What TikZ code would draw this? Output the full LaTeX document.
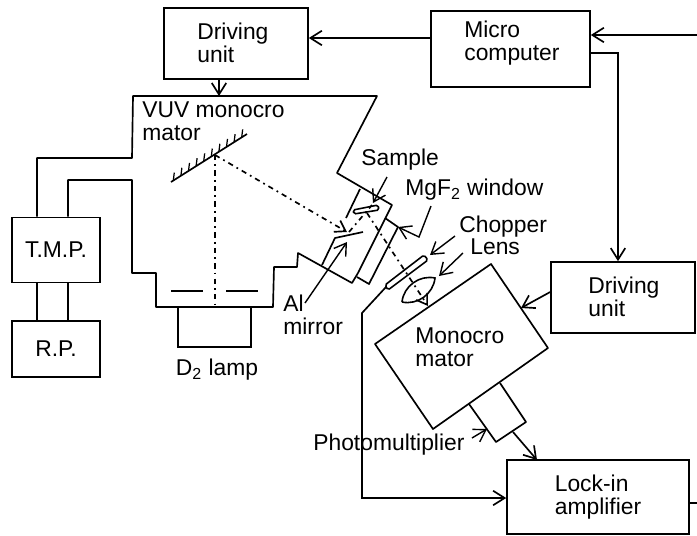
\documentclass[tikz,border=0pt]{standalone}
\usepackage{fontspec}
\setmainfont{Liberation Sans}
\usepackage{tikz}
\usetikzlibrary{arrows.meta,calc,positioning}

\begin{document}
\begin{tikzpicture}[
  x=0.02cm, y=-0.02cm,
  font=\fontsize{13}{13.2}\selectfont,
  wall/.style={line width=0.95pt, line join=round},
  unitbox/.style={draw, line width=0.95pt, inner sep=0pt, align=left},
  signal/.style={-{Straight Barb[length=2.3mm,width=2.9mm]}, line width=0.95pt},
  leader/.style={-{Straight Barb[length=2.3mm,width=2.9mm]}, line width=0.8pt},
  beam/.style={line width=0.95pt, dash pattern=on 3pt off 2.4pt on 1pt off 2.4pt},
  beamhead/.style={beam, -{Straight Barb[length=2mm,width=2.6mm]}},
  caption/.style={inner sep=0pt, align=left, anchor=west},
]
\useasboundingbox (0,0) rectangle (697,535);

% -------------------------------------------------------------------------
% Control units and pumps.
% -------------------------------------------------------------------------
\node[unitbox, minimum width=2.88cm, minimum height=1.42cm] (drivingtop) at (236,43.5) {};
\node[caption] (drivingtoptext) at (197,43) {Driving\\unit};
\node[unitbox, minimum width=3.18cm, minimum height=1.52cm] (micro) at (510.5,49) {};
\node[caption] (microtext) at (464,43) {Micro\\computer};
\node[unitbox, minimum width=2.88cm, minimum height=1.42cm] (drivingright) at (623,297.5) {};
\node[caption] (drivingtext) at (588,297) {Driving\\unit};
\node[unitbox, minimum width=3.64cm, minimum height=1.48cm] (lockin) at (598,497) {Lock-in\\amplifier};
\node[unitbox, minimum width=1.76cm, minimum height=1.30cm] (tmp) at (56,250) {T.M.P.};
\node[unitbox, minimum width=1.76cm, minimum height=1.12cm] (rp) at (56,349) {R.P.};
\node[unitbox, minimum width=1.46cm, minimum height=0.80cm] (lamp) at (214.5,327) {};
\node[inner sep=0pt] (lamptext) at (217,370) {D\textsubscript{2} lamp};

% -------------------------------------------------------------------------
% VUV chamber outline, drawn round from the pump tubes to the sample arm.
% -------------------------------------------------------------------------
\coordinate (tubeA) at (37,158);
\coordinate (tubeB) at (68,180);
\coordinate (mirrorL) at (335,238);
\coordinate (mirrorR) at (363,232);
\draw[wall] (tmp.north -| tubeA) -- (tubeA) -- (132,158) -- (133,96) -- (377,96)
  -- (337,173) -- (392,205) -- (358,273);
\draw[wall] (tmp.north -| tubeB) -- (tubeB) -- (132,180) -- (132,273) -- (156,273)
  -- (156,307) -- (273,307) -- (274,267) -- (297,267) -- (298,253) -- (352,283)
  -- (358,273);
\draw[wall] (360,189) -- (346,218);
\draw[wall] (322,265) -- (mirrorL) -- (mirrorR);
\draw[wall] (385,218) -- (398,227) -- (369,284) -- (357,277);
\draw[wall] (tmp.south -| tubeA) -- (rp.north -| tubeA);
\draw[wall] (tmp.south -| tubeB) -- (rp.north -| tubeB);

% Slits and grating.
\draw[wall] (171,291) -- (203,291);
\draw[wall] (226,291) -- (258,291);
\coordinate (gratingL) at (171,182);
\coordinate (gratingR) at (247,134);
\coordinate (gratingC) at (215,155);
\draw[wall] (gratingL) -- (gratingR);
\foreach \t in {0.03,0.13,...,1.0}
  \draw[line width=0.7pt] ($(gratingL)!\t!(gratingR)$) -- ++(1,-8);

% -------------------------------------------------------------------------
% Optical path.
% -------------------------------------------------------------------------
\draw[beam] (gratingC) -- (215,307);
\draw[beamhead] (gratingC) -- (347,232);
\draw[beam] (349,232) -- (372,205);
\draw[beamhead] (367,213) -- (428,306);
\draw[line width=0.9pt, rounded corners=1pt] (353,210) -- (378,205) -- (379,210) -- (354,214) -- cycle;
\draw[line width=0.9pt, rounded corners=1pt] (385,285) -- (424,255) -- (428,260) -- (388,290) -- cycle;
\draw[line width=0.9pt] (402,302) to[bend left=48] (435,278) to[bend left=48] (402,302);

% -------------------------------------------------------------------------
% Second monochromator and photomultiplier.
% -------------------------------------------------------------------------
\draw[wall] (491,264) -- (548,348) -- (433,429) -- (375,344) -- cycle;
\draw[wall] (469,404) -- (496,442) -- (526,422) -- (500,383);
\node[caption] (monotext) at (415,347) {Monocro\\mator};

% -------------------------------------------------------------------------
% Signal lines.
% -------------------------------------------------------------------------
\coordinate (feedin) at (697,35);
\coordinate (lockout) at (697,503);
\coordinate (feedbend) at (618,53);
\draw[signal] (micro.west |- 0,38) -- (drivingtop.east |- 0,38);
\draw[signal] (feedin) -- (micro.east |- feedin);
\draw[signal] (micro.east |- feedbend) -- (feedbend) -- (feedbend |- drivingright.north);
\draw[signal] (drivingtop.south -| 219,0) -- (219,96);
\draw[signal] (drivingright.west |- 0,292) -- (521,308);
\draw[signal] (513,432) -- (537,460);
\draw[signal] (386,287) -- (362,313) -- (362,498) -- (lockin.west |- 0,498);
\draw[wall] (lockin.east |- lockout) -- (lockout);

% -------------------------------------------------------------------------
% Labels and their leaders.
% -------------------------------------------------------------------------
\node[caption] (vuvtext) at (142,121.5) {VUV monocro\\mator};
\node[caption] (sampletext) at (361,160) {Sample};
\node[caption] (windowtext) at (405,190) {MgF\textsubscript{2} window};
\node[caption] (choppertext) at (459,227) {Chopper};
\node[caption] (lenstext) at (470,247) {Lens};
\node[caption] (mirrortext) at (283,315) {Al\\mirror};
\node[caption] (pmttext) at (313,445) {Photomultiplier};

\draw[leader] (387,177) -- (373,203);
\draw[leader] (431,206) -- (419,237) -- (398,227);
\draw[leader] (455,236) -- (430,255);
\draw[leader] (463,253) -- (439,276);
\draw[leader] (305,303) -- (347,242);
\draw[leader] (472,438) -- (487,429);

\end{tikzpicture}
\end{document}
